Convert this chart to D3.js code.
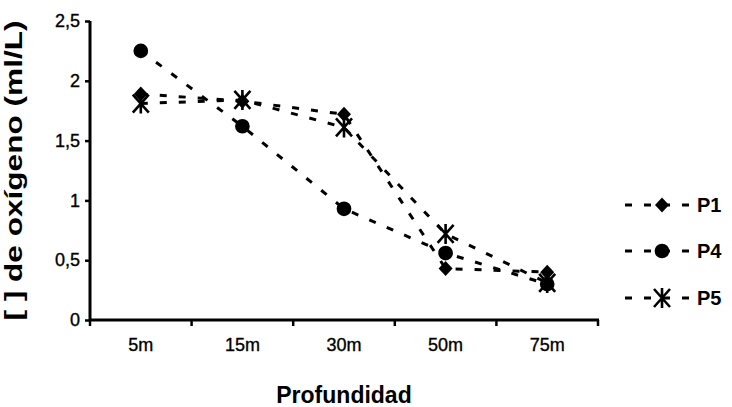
<!DOCTYPE html>
<html>
<head>
<meta charset="utf-8">
<script src="https://cdn.jsdelivr.net/npm/d3@7"></script>
<style>
	body { margin: 0; background: #fff; }
	svg { display: block; font-family: 'Liberation Sans', Arial, sans-serif; }
</style>
</head>
<body>
<div id="chart"></div>
<script>
// Data
const depths = ['5m', '15m', '30m', '50m', '75m'];
const seriesNames = ['P1', 'P4', 'P5'];
const p1 = [1.89, 1.83, 1.72, 0.43, 0.40];
const p4 = [2.25, 1.62, 0.93, 0.56, 0.30];
const p5 = [1.81, 1.84, 1.61, 0.72, 0.31];
const yTicks = [0, 0.5, 1, 1.5, 2, 2.5];

const series = [
	{ name: seriesNames[0], values: p1, symbol: 'diamond' },
	{ name: seriesNames[1], values: p4, symbol: 'circle' },
	{ name: seriesNames[2], values: p5, symbol: 'star' }
];

// Chart dimensions
const width = 732;
const height = 407;
const marginLeft = 90;
const plotRight = 598;
const plotTop = 21;
const plotBottom = 320;

const svg = d3.select('#chart')
	.append('svg')
	.attr('width', width)
	.attr('height', height)
	.attr('viewBox', [0, 0, width, height]);

const x = d3.scaleBand()
	.domain(depths)
	.range([marginLeft, plotRight]);

const y = d3.scaleLinear()
	.domain([0, 2.5])
	.range([plotBottom, plotTop]);

// marker shapes
function markerPath(symbol) {
	if (symbol === 'diamond') return 'M0,-7.5L7,0L0,7.5L-7,0Z';
	if (symbol === 'circle') return d3.symbol(d3.symbolCircle, 170)();
	// excel-like star: an X crossed by a vertical bar
	return 'M-8,-9L8,9M-8,9L8,-9M0,-10L0,10';
}

function drawMarker(g, symbol) {
	if (symbol === 'star') {
		g.append('path')
			.attr('d', markerPath(symbol))
			.attr('fill', 'none')
			.attr('stroke', '#000')
			.attr('stroke-width', 2.6);
	} else {
		g.append('path')
			.attr('d', markerPath(symbol))
			.attr('fill', '#000');
	}
}

// Axes
const xAxis = svg.append('g')
	.attr('transform', 'translate(0,' + plotBottom + ')')
	.call(d3.axisBottom(x).tickSize(0).tickPadding(18));
xAxis.select('.domain').remove();
xAxis.selectAll('text')
	.attr('font-size', 18)
	.attr('font-family', "'Liberation Sans', Arial, sans-serif")
	.attr('fill', '#000')
	.attr('stroke', '#000')
	.attr('stroke-width', 0.35);

// category boundary ticks on the x axis
const boundaries = depths.map((d) => x(d)).concat([x(depths[depths.length - 1]) + x.bandwidth()]);
svg.append('g')
	.selectAll('line')
	.data(boundaries)
	.join('line')
	.attr('x1', (d) => d)
	.attr('x2', (d) => d)
	.attr('y1', plotBottom)
	.attr('y2', plotBottom + 6)
	.attr('stroke', '#000')
	.attr('stroke-width', 2.5);

svg.append('line')
	.attr('x1', marginLeft - 1)
	.attr('x2', plotRight + 1)
	.attr('y1', plotBottom)
	.attr('y2', plotBottom)
	.attr('stroke', '#000')
	.attr('stroke-width', 3);

const yAxis = svg.append('g')
	.attr('transform', 'translate(' + marginLeft + ',0)')
	.call(d3.axisLeft(y)
		.tickValues(yTicks)
		.tickSize(5)
		.tickPadding(5)
		.tickFormat((d) => String(d).replace('.', ',')));
yAxis.select('.domain')
	.attr('stroke-width', 3)
	.attr('d', 'M0,' + plotTop + 'V' + plotBottom);
yAxis.selectAll('.tick line').attr('stroke-width', 2.5);
yAxis.selectAll('text')
	.attr('font-size', 18)
	.attr('font-family', "'Liberation Sans', Arial, sans-serif")
	.attr('fill', '#000')
	.attr('stroke', '#000')
	.attr('stroke-width', 0.35);

// Axis titles
svg.append('text')
	.attr('transform', 'translate(22,' + (plotTop + plotBottom) / 2 + ') rotate(-90)')
	.attr('text-anchor', 'middle')
	.attr('font-size', 23)
	.attr('font-weight', 'bold')
	.attr('textLength', 300)
	.attr('lengthAdjust', 'spacingAndGlyphs')
	.text('[ ] de oxígeno (ml/L)');

svg.append('text')
	.attr('x', (marginLeft + plotRight) / 2)
	.attr('y', 403)
	.attr('text-anchor', 'middle')
	.attr('font-size', 23)
	.attr('font-weight', 'bold')
	.text('Profundidad');

// Lines
const line = d3.line()
	.x((d, i) => x(depths[i]) + x.bandwidth() / 2)
	.y((d) => y(d));

svg.append('g')
	.selectAll('path')
	.data(series)
	.join('path')
	.attr('d', (s) => line(s.values))
	.attr('fill', 'none')
	.attr('stroke', '#000')
	.attr('stroke-width', 3)
	.attr('stroke-dasharray', '7,12');

// Markers
series.forEach((s) => {
	s.values.forEach((v, i) => {
		const g = svg.append('g')
			.attr('transform', 'translate(' + (x(depths[i]) + x.bandwidth() / 2) + ',' + y(v) + ')');
		drawMarker(g, s.symbol);
	});
});

// Legend
const legendY = [205, 251, 298];
series.forEach((s, i) => {
	const lg = svg.append('g').attr('transform', 'translate(0,' + legendY[i] + ')');
	lg.append('line')
		.attr('x1', 625)
		.attr('x2', 690)
		.attr('stroke', '#000')
		.attr('stroke-width', 3)
		.attr('stroke-dasharray', '7,12');
	const m = lg.append('g').attr('transform', 'translate(662,0)');
	drawMarker(m, s.symbol);
	lg.append('text')
		.attr('x', 697)
		.attr('y', 7)
		.attr('font-size', 20)
		.attr('font-weight', 'bold')
		.text(s.name);
});
</script>
</body>
</html>
